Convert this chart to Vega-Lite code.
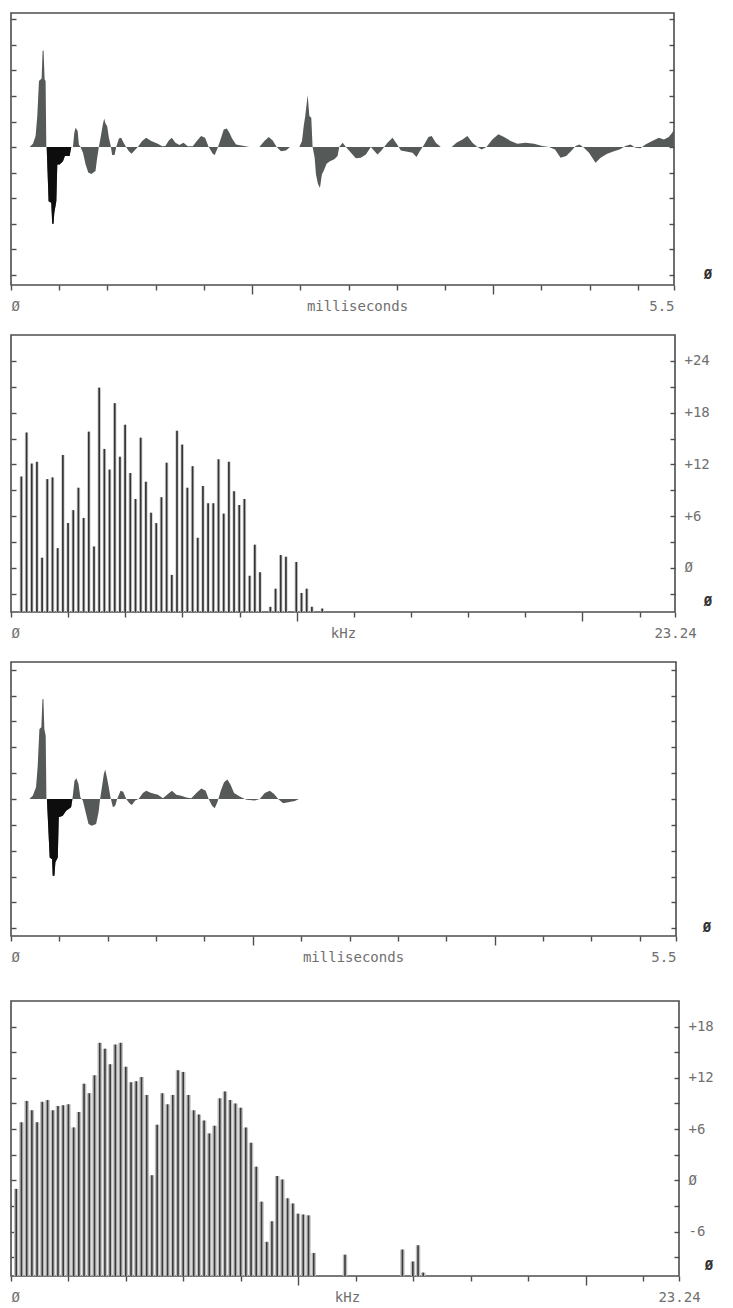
{
  "$schema": "https://vega.github.io/schema/vega-lite/v6.json",
  "padding": {"left": 9, "top": 12, "right": 0, "bottom": 0},
  "background": "white",
  "datasets": {
    "wave1": [
      {"t":0,"v":0},{"t":0.155,"v":0},{"t":0.182,"v":0.13},{"t":0.204,"v":0.43},{"t":0.218,"v":1.22},{"t":0.232,"v":2.59},{"t":0.254,"v":2.69},{"t":0.262,"v":3.76},{"t":0.27,"v":3.79},{"t":0.279,"v":2.65},{"t":0.287,"v":2.59},{"t":0.293,"v":0},{"t":0.296,"v":0},{"t":0.312,"v":-2.12},{"t":0.334,"v":-2.18},{"t":0.342,"v":-3.0},{"t":0.353,"v":-3.0},{"t":0.359,"v":-2.58},{"t":0.376,"v":-2.12},{"t":0.384,"v":-0.68},{"t":0.403,"v":-0.68},{"t":0.431,"v":-0.55},{"t":0.447,"v":-0.35},{"t":0.486,"v":-0.35},{"t":0.5,"v":0},{"t":0.514,"v":0},{"t":0.525,"v":0.56},{"t":0.536,"v":0.76},{"t":0.553,"v":0.63},{"t":0.563,"v":0.1},{"t":0.577,"v":0},{"t":0.597,"v":-0.22},{"t":0.619,"v":-0.68},{"t":0.641,"v":-1.0},{"t":0.666,"v":-1.05},{"t":0.701,"v":-0.94},{"t":0.715,"v":-0.42},{"t":0.729,"v":0},{"t":0.748,"v":0.5},{"t":0.762,"v":0.89},{"t":0.773,"v":1.12},{"t":0.784,"v":0.92},{"t":0.798,"v":0.82},{"t":0.812,"v":0.37},{"t":0.826,"v":0.08},{"t":0.839,"v":-0.31},{"t":0.859,"v":-0.31},{"t":0.873,"v":0},{"t":0.895,"v":0.34},{"t":0.914,"v":0.37},{"t":0.934,"v":0.17},{"t":0.955,"v":0},{"t":0.978,"v":-0.16},{"t":1.0,"v":-0.26},{"t":1.025,"v":-0.13},{"t":1.052,"v":0},{"t":1.088,"v":0.24},{"t":1.121,"v":0.37},{"t":1.163,"v":0.24},{"t":1.218,"v":0.13},{"t":1.254,"v":0.03},{"t":1.281,"v":0.04},{"t":1.309,"v":0.26},{"t":1.334,"v":0.37},{"t":1.364,"v":0.17},{"t":1.397,"v":0.08},{"t":1.431,"v":0.17},{"t":1.466,"v":0.03},{"t":1.508,"v":0.03},{"t":1.541,"v":0.24},{"t":1.577,"v":0.43},{"t":1.61,"v":0.37},{"t":1.64,"v":0},{"t":1.674,"v":-0.26},{"t":1.69,"v":-0.31},{"t":1.715,"v":-0.03},{"t":1.743,"v":0.37},{"t":1.765,"v":0.69},{"t":1.79,"v":0.73},{"t":1.812,"v":0.56},{"t":1.834,"v":0.34},{"t":1.867,"v":0.1},{"t":1.922,"v":0.05},{"t":1.978,"v":0},{"t":2.06,"v":0},{"t":2.102,"v":0.24},{"t":2.138,"v":0.39},{"t":2.171,"v":0.26},{"t":2.204,"v":0},{"t":2.24,"v":-0.16},{"t":2.281,"v":-0.13},{"t":2.314,"v":0},{"t":2.392,"v":0},{"t":2.414,"v":0.24},{"t":2.428,"v":0.82},{"t":2.441,"v":1.22},{"t":2.461,"v":2.04},{"t":2.475,"v":1.22},{"t":2.491,"v":1.15},{"t":2.502,"v":0},{"t":2.519,"v":-0.42},{"t":2.53,"v":-1.07},{"t":2.546,"v":-1.44},{"t":2.563,"v":-1.6},{"t":2.579,"v":-1.07},{"t":2.599,"v":-0.88},{"t":2.618,"v":-0.65},{"t":2.646,"v":-0.55},{"t":2.682,"v":-0.48},{"t":2.709,"v":-0.35},{"t":2.723,"v":0},{"t":2.751,"v":0.17},{"t":2.778,"v":0},{"t":2.82,"v":-0.22},{"t":2.861,"v":-0.44},{"t":2.902,"v":-0.42},{"t":2.944,"v":-0.29},{"t":2.985,"v":0},{"t":3.04,"v":-0.29},{"t":3.068,"v":-0.16},{"t":3.123,"v":0.17},{"t":3.165,"v":0.37},{"t":3.206,"v":0.08},{"t":3.234,"v":-0.13},{"t":3.289,"v":-0.18},{"t":3.331,"v":-0.22},{"t":3.364,"v":-0.39},{"t":3.391,"v":-0.16},{"t":3.428,"v":0.1},{"t":3.463,"v":0.39},{"t":3.49,"v":0.43},{"t":3.524,"v":0.17},{"t":3.565,"v":0},{"t":3.656,"v":0},{"t":3.695,"v":0.17},{"t":3.745,"v":0.3},{"t":3.786,"v":0.43},{"t":3.828,"v":0.17},{"t":3.869,"v":0},{"t":3.905,"v":-0.09},{"t":3.944,"v":0},{"t":3.993,"v":0.3},{"t":4.043,"v":0.5},{"t":4.09,"v":0.39},{"t":4.145,"v":0.24},{"t":4.2,"v":0.13},{"t":4.269,"v":0.17},{"t":4.339,"v":0.13},{"t":4.408,"v":0.04},{"t":4.463,"v":0},{"t":4.513,"v":-0.09},{"t":4.559,"v":-0.42},{"t":4.606,"v":-0.35},{"t":4.651,"v":-0.13},{"t":4.684,"v":0.04},{"t":4.717,"v":0.1},{"t":4.753,"v":-0.03},{"t":4.795,"v":-0.22},{"t":4.849,"v":-0.61},{"t":4.891,"v":-0.42},{"t":4.946,"v":-0.26},{"t":5.002,"v":-0.16},{"t":5.048,"v":-0.09},{"t":5.098,"v":0.04},{"t":5.139,"v":0.1},{"t":5.181,"v":-0.03},{"t":5.222,"v":-0.05},{"t":5.263,"v":0.1},{"t":5.319,"v":0.24},{"t":5.374,"v":0.37},{"t":5.416,"v":0.3},{"t":5.457,"v":0.39},{"t":5.485,"v":0.56},{"t":5.5,"v":0.69}
    ],
    "wave3": [
      {"t":0,"v":0},{"t":0.152,"v":0},{"t":0.18,"v":0.13},{"t":0.207,"v":0.45},{"t":0.221,"v":1.29},{"t":0.235,"v":2.71},{"t":0.251,"v":2.78},{"t":0.26,"v":3.85},{"t":0.268,"v":3.88},{"t":0.276,"v":2.71},{"t":0.287,"v":2.45},{"t":0.293,"v":0},{"t":0.297,"v":0},{"t":0.32,"v":-2.26},{"t":0.34,"v":-2.33},{"t":0.345,"v":-2.97},{"t":0.359,"v":-2.97},{"t":0.367,"v":-2.45},{"t":0.387,"v":-2.26},{"t":0.395,"v":-0.71},{"t":0.428,"v":-0.65},{"t":0.456,"v":-0.45},{"t":0.497,"v":-0.32},{"t":0.508,"v":0},{"t":0.525,"v":0.71},{"t":0.541,"v":0.8},{"t":0.558,"v":0.58},{"t":0.574,"v":0.06},{"t":0.594,"v":-0.06},{"t":0.621,"v":-0.58},{"t":0.641,"v":-0.97},{"t":0.668,"v":-1.03},{"t":0.704,"v":-0.97},{"t":0.724,"v":-0.52},{"t":0.737,"v":0},{"t":0.754,"v":0.52},{"t":0.768,"v":0.97},{"t":0.779,"v":1.14},{"t":0.793,"v":0.84},{"t":0.806,"v":0.52},{"t":0.823,"v":0.06},{"t":0.843,"v":-0.32},{"t":0.862,"v":-0.26},{"t":0.878,"v":0},{"t":0.906,"v":0.32},{"t":0.928,"v":0.28},{"t":0.953,"v":0},{"t":0.98,"v":-0.16},{"t":1.0,"v":-0.23},{"t":1.027,"v":-0.06},{"t":1.055,"v":0},{"t":1.091,"v":0.23},{"t":1.118,"v":0.32},{"t":1.16,"v":0.23},{"t":1.215,"v":0.16},{"t":1.257,"v":0.03},{"t":1.298,"v":0.19},{"t":1.331,"v":0.32},{"t":1.367,"v":0.16},{"t":1.408,"v":0.13},{"t":1.45,"v":0.06},{"t":1.491,"v":0.03},{"t":1.533,"v":0.23},{"t":1.574,"v":0.41},{"t":1.61,"v":0.32},{"t":1.635,"v":0},{"t":1.663,"v":-0.26},{"t":1.685,"v":-0.36},{"t":1.707,"v":-0.13},{"t":1.735,"v":0.32},{"t":1.762,"v":0.65},{"t":1.79,"v":0.75},{"t":1.817,"v":0.54},{"t":1.845,"v":0.23},{"t":1.892,"v":0.1},{"t":1.947,"v":-0.03},{"t":2.016,"v":-0.06},{"t":2.057,"v":0},{"t":2.099,"v":0.23},{"t":2.14,"v":0.32},{"t":2.176,"v":0.19},{"t":2.21,"v":0},{"t":2.251,"v":-0.16},{"t":2.293,"v":-0.13},{"t":2.347,"v":-0.08},{"t":2.381,"v":0},{"t":5.5,"v":0}
    ],
    "spec2": [
      {"f":0.363,"db":10.6},{"f":0.545,"db":15.7},{"f":0.726,"db":12.1},{"f":0.908,"db":12.3},{"f":1.089,"db":1.2},{"f":1.271,"db":10.3},{"f":1.453,"db":10.5},{"f":1.634,"db":2.3},{"f":1.816,"db":13.1},{"f":1.997,"db":5.2},{"f":2.179,"db":6.7},{"f":2.36,"db":9.3},{"f":2.542,"db":5.8},{"f":2.723,"db":15.8},{"f":2.905,"db":2.5},{"f":3.087,"db":20.9},{"f":3.268,"db":13.8},{"f":3.45,"db":11.4},{"f":3.631,"db":19.1},{"f":3.813,"db":12.9},{"f":3.994,"db":16.6},{"f":4.176,"db":11.0},{"f":4.358,"db":8.0},{"f":4.539,"db":15.1},{"f":4.721,"db":10.0},{"f":4.902,"db":6.4},{"f":5.084,"db":5.2},{"f":5.265,"db":8.2},{"f":5.447,"db":12.2},{"f":5.628,"db":-0.8},{"f":5.81,"db":15.9},{"f":5.992,"db":14.3},{"f":6.173,"db":9.3},{"f":6.355,"db":11.8},{"f":6.536,"db":3.5},{"f":6.718,"db":9.5},{"f":6.899,"db":7.5},{"f":7.081,"db":7.5},{"f":7.263,"db":12.6},{"f":7.444,"db":6.3},{"f":7.626,"db":12.3},{"f":7.807,"db":8.9},{"f":7.989,"db":7.3},{"f":8.17,"db":8.0},{"f":8.352,"db":-0.9},{"f":8.533,"db":2.7},{"f":8.715,"db":-0.5},{"f":9.078,"db":-4.5},{"f":9.26,"db":-2.4},{"f":9.441,"db":1.5},{"f":9.623,"db":1.3},{"f":9.986,"db":0.7},{"f":10.168,"db":-2.9},{"f":10.349,"db":-2.4},{"f":10.531,"db":-4.5},{"f":10.894,"db":-4.7}
    ],
    "spec4": [
      {"f":0.182,"db":-1.0},{"f":0.363,"db":6.8},{"f":0.545,"db":9.3},{"f":0.726,"db":8.2},{"f":0.908,"db":6.8},{"f":1.089,"db":9.2},{"f":1.271,"db":9.4},{"f":1.453,"db":8.2},{"f":1.634,"db":8.7},{"f":1.816,"db":8.8},{"f":1.997,"db":8.9},{"f":2.179,"db":6.2},{"f":2.36,"db":8.0},{"f":2.542,"db":11.3},{"f":2.723,"db":10.2},{"f":2.905,"db":12.3},{"f":3.087,"db":16.1},{"f":3.268,"db":15.4},{"f":3.45,"db":13.6},{"f":3.631,"db":15.9},{"f":3.813,"db":16.1},{"f":3.994,"db":13.3},{"f":4.176,"db":11.5},{"f":4.358,"db":11.6},{"f":4.539,"db":12.1},{"f":4.721,"db":10.0},{"f":4.902,"db":0.6},{"f":5.084,"db":6.5},{"f":5.265,"db":10.2},{"f":5.447,"db":8.9},{"f":5.628,"db":10.0},{"f":5.81,"db":12.9},{"f":5.992,"db":12.7},{"f":6.173,"db":10.0},{"f":6.355,"db":8.2},{"f":6.536,"db":7.7},{"f":6.718,"db":7.0},{"f":6.899,"db":5.5},{"f":7.081,"db":6.4},{"f":7.263,"db":9.6},{"f":7.444,"db":10.4},{"f":7.626,"db":9.4},{"f":7.807,"db":9.0},{"f":7.989,"db":8.5},{"f":8.17,"db":6.2},{"f":8.352,"db":4.4},{"f":8.533,"db":1.6},{"f":8.715,"db":-2.5},{"f":8.897,"db":-7.2},{"f":9.078,"db":-4.8},{"f":9.26,"db":0.5},{"f":9.441,"db":0.1},{"f":9.623,"db":-2.1},{"f":9.804,"db":-2.7},{"f":9.986,"db":-3.9},{"f":10.168,"db":-4.0},{"f":10.349,"db":-4.1},{"f":10.531,"db":-8.5},{"f":11.62,"db":-8.7},{"f":13.617,"db":-8.1},{"f":13.98,"db":-9.5},{"f":14.162,"db":-7.6},{"f":14.343,"db":-10.8}
    ]
  },
  "spacing": 31,
  "vconcat": [
    {
      "spacing": 16,
      "vconcat": [
        {
          "width": 663,
          "height": 272,
          "data": {"name": "wave1"},
          "layer": [
            {
              "mark": {"type": "area", "color": "#555a58", "interpolate": "linear"},
              "encoding": {
                "x": {
                  "field": "t", "type": "quantitative",
                  "scale": {"domain": [0, 5.5], "nice": false, "zero": false},
                  "axis": {
                    "orient": "bottom",
                    "values": [0,0.2,0.4,0.6,0.8,1,1.2,1.4,1.6,1.8,2,2.2,2.4,2.6,2.8,3,3.2,3.4,3.6,3.8,4,4.2,4.4,4.6,4.8,5,5.2,5.4,5.5],
                    "tickSize": {"condition": {"test": "datum.value >= 0.9 && abs(datum.value - round(datum.value)) < 0.01", "value": 9}, "value": 5},
                    "labelExpr": "datum.value == 0 ? 'Ø' : (datum.value == 5.5 ? '5.5' : '')",
                    "labelAlign": {"condition": {"test": "datum.value == 0", "value": "left"}, "value": "right"},
                    "labelBaseline": "top",
                    "labelPadding": 9,
                    "title": "milliseconds",
                    "titleX": 346,
                    "titleY": 14,
                    "titleBaseline": "top",
                    "titleAlign": "center"
                  }
                },
                "y": {
                  "field": "v", "type": "quantitative",
                  "scale": {"domain": [-5.4, 5.25], "nice": false, "zero": false},
                  "axis": {"orient": "left", "values": [-5,-4,-3,-2,-1,0,1,2,3,4,5], "labels": false, "tickSize": -5, "title": null}
                },
                "y2": {"datum": 0}
              }
            },
            {
              "transform": [{"filter": "datum.t >= 0.29 && datum.t <= 0.5"}],
              "mark": {"type": "area", "color": "#0d0d0d", "interpolate": "linear"},
              "encoding": {
                "x": {"field": "t", "type": "quantitative"},
                "y": {
                  "field": "v", "type": "quantitative",
                  "axis": {"orient": "right", "values": [-5,-4,-3,-2,-1,0,1,2,3,4,5], "labels": false, "tickSize": -5, "title": null}
                },
                "y2": {"datum": 0}
              }
            },
            {
              "data": {"values": [{}]},
              "mark": {"type": "text", "text": "Ø", "fontWeight": "bold", "fontSize": 14, "color": "#333333", "dx": 34, "font": "DejaVu Sans Mono"},
              "encoding": {
                "x": {"datum": 5.5, "type": "quantitative"},
                "y": {"datum": -5, "type": "quantitative", "axis": null}
              }
            }
          ],
          "resolve": {"axis": {"y": "independent"}}
        },
        {
          "width": 664,
          "height": 277,
          "data": {"name": "spec2"},
          "layer": [
            {
              "mark": {"type": "rule", "color": "#cfcfcf", "strokeWidth": 3.5},
              "encoding": {
                "x": {
                  "field": "f", "type": "quantitative",
                  "scale": {"domain": [0, 23.24], "nice": false, "zero": false},
                  "axis": {
                    "orient": "bottom",
                    "values": [0,1,2,3,4,5,6,7,8,9,10,11,12,13,14,15,16,17,18,19,20,21,22,23,23.24],
                    "tickSize": {"condition": {"test": "datum.value == 10 || datum.value == 20", "value": 9}, "value": 5},
                    "labelExpr": "datum.value == 0 ? 'Ø' : (datum.value == 23.24 ? '23.24' : '')",
                    "labelAlign": {"condition": {"test": "datum.value == 0", "value": "left"}, "value": "center"},
                    "labelBaseline": "top",
                    "labelPadding": 9,
                    "title": "kHz",
                    "titleX": 332,
                    "titleY": 14,
                    "titleBaseline": "top",
                    "titleAlign": "center"
                  }
                },
                "y": {
                  "field": "db", "type": "quantitative",
                  "scale": {"domain": [-5.1, 27], "nice": false, "zero": false},
                  "axis": {"orient": "left", "values": [-3,0,3,6,9,12,15,18,21,24], "labels": false, "tickSize": -5, "title": null}
                },
                "y2": {"datum": -5.1}
              }
            },
            {
              "mark": {"type": "rule", "color": "#333333", "strokeWidth": 1.7},
              "encoding": {
                "x": {"field": "f", "type": "quantitative"},
                "y": {
                  "field": "db", "type": "quantitative",
                  "axis": {
                    "orient": "right", "values": [-3,0,3,6,9,12,15,18,21,24], "tickSize": -5, "title": null,
                    "labelExpr": "datum.value == 0 ? 'Ø' : (datum.value % 6 == 0 ? (datum.value > 0 ? '+' : '') + datum.value : '')",
                    "labelPadding": 14, "labelAlign": "left", "labelBaseline": "middle"
                  }
                },
                "y2": {"datum": -5.1}
              }
            },
            {
              "data": {"values": [{}]},
              "mark": {"type": "text", "text": "Ø", "fontWeight": "bold", "fontSize": 14, "color": "#333333", "dx": 33, "font": "DejaVu Sans Mono"},
              "encoding": {
                "x": {"datum": 23.24, "type": "quantitative"},
                "y": {"datum": -3.9, "type": "quantitative", "axis": null}
              }
            }
          ],
          "resolve": {"axis": {"y": "independent"}}
        },
        {
          "width": 665,
          "height": 274,
          "data": {"name": "wave3"},
          "layer": [
            {
              "mark": {"type": "area", "color": "#555a58", "interpolate": "linear"},
              "encoding": {
                "x": {
                  "field": "t", "type": "quantitative",
                  "scale": {"domain": [0, 5.5], "nice": false, "zero": false},
                  "axis": {
                    "orient": "bottom",
                    "values": [0,0.2,0.4,0.6,0.8,1,1.2,1.4,1.6,1.8,2,2.2,2.4,2.6,2.8,3,3.2,3.4,3.6,3.8,4,4.2,4.4,4.6,4.8,5,5.2,5.4,5.5],
                    "tickSize": {"condition": {"test": "datum.value >= 0.9 && abs(datum.value - round(datum.value)) < 0.01", "value": 9}, "value": 5},
                    "labelExpr": "datum.value == 0 ? 'Ø' : (datum.value == 5.5 ? '5.5' : '')",
                    "labelAlign": {"condition": {"test": "datum.value == 0", "value": "left"}, "value": "right"},
                    "labelBaseline": "top",
                    "labelPadding": 9,
                    "title": "milliseconds",
                    "titleX": 342,
                    "titleY": 14,
                    "titleBaseline": "top",
                    "titleAlign": "center"
                  }
                },
                "y": {
                  "field": "v", "type": "quantitative",
                  "scale": {"domain": [-5.3, 5.3], "nice": false, "zero": false},
                  "axis": {"orient": "left", "values": [-5,-4,-3,-2,-1,0,1,2,3,4,5], "labels": false, "tickSize": -5, "title": null}
                },
                "y2": {"datum": 0}
              }
            },
            {
              "transform": [{"filter": "datum.t >= 0.29 && datum.t <= 0.51"}],
              "mark": {"type": "area", "color": "#0d0d0d", "interpolate": "linear"},
              "encoding": {
                "x": {"field": "t", "type": "quantitative"},
                "y": {
                  "field": "v", "type": "quantitative",
                  "axis": {"orient": "right", "values": [-5,-4,-3,-2,-1,0,1,2,3,4,5], "labels": false, "tickSize": -5, "title": null}
                },
                "y2": {"datum": 0}
              }
            },
            {
              "data": {"values": [{}]},
              "mark": {"type": "text", "text": "Ø", "fontWeight": "bold", "fontSize": 14, "color": "#333333", "dx": 31, "font": "DejaVu Sans Mono"},
              "encoding": {
                "x": {"datum": 5.5, "type": "quantitative"},
                "y": {"datum": -5, "type": "quantitative", "axis": null}
              }
            }
          ],
          "resolve": {"axis": {"y": "independent"}}
        }
      ]
    },
    {
      "width": 668,
      "height": 275,
      "data": {"name": "spec4"},
      "layer": [
        {
          "mark": {"type": "rule", "color": "#bdbdbd", "strokeWidth": 4.5},
          "encoding": {
            "x": {
              "field": "f", "type": "quantitative",
              "scale": {"domain": [0, 23.24], "nice": false, "zero": false},
              "axis": {
                "orient": "bottom",
                "values": [0,1,2,3,4,5,6,7,8,9,10,11,12,13,14,15,16,17,18,19,20,21,22,23,23.24],
                "tickSize": {"condition": {"test": "datum.value == 10 || datum.value == 20", "value": 9}, "value": 5},
                "labelExpr": "datum.value == 0 ? 'Ø' : (datum.value == 23.24 ? '23.24' : '')",
                "labelAlign": {"condition": {"test": "datum.value == 0", "value": "left"}, "value": "center"},
                "labelBaseline": "top",
                "labelPadding": 9,
                "title": "kHz",
                "titleX": 336,
                "titleY": 14,
                "titleBaseline": "top",
                "titleAlign": "center"
              }
            },
            "y": {
              "field": "db", "type": "quantitative",
              "scale": {"domain": [-11.2, 21], "nice": false, "zero": false},
              "axis": {"orient": "left", "values": [-9,-6,-3,0,3,6,9,12,15,18], "labels": false, "tickSize": -5, "title": null}
            },
            "y2": {"datum": -11.2}
          }
        },
        {
          "mark": {"type": "rule", "color": "#3a3a3a", "strokeWidth": 1.6},
          "encoding": {
            "x": {"field": "f", "type": "quantitative"},
            "y": {
              "field": "db", "type": "quantitative",
              "axis": {
                "orient": "right", "values": [-9,-6,-3,0,3,6,9,12,15,18], "tickSize": -5, "title": null,
                "labelExpr": "datum.value == 0 ? 'Ø' : (datum.value % 6 == 0 ? (datum.value > 0 ? '+' : '') + datum.value : '')",
                "labelPadding": 14, "labelAlign": "left", "labelBaseline": "middle"
              }
            },
            "y2": {"datum": -11.2}
          }
        },
        {
          "data": {"values": [{}]},
          "mark": {"type": "text", "text": "Ø", "fontWeight": "bold", "fontSize": 14, "color": "#333333", "dx": 30, "font": "DejaVu Sans Mono"},
          "encoding": {
            "x": {"datum": 23.24, "type": "quantitative"},
            "y": {"datum": -10, "type": "quantitative", "axis": null}
          }
        }
      ],
      "resolve": {"axis": {"y": "independent"}}
    }
  ],
  "config": {
    "view": {"stroke": "#4d4d4d", "strokeWidth": 1.6},
    "font": "DejaVu Sans Mono",
    "axis": {
      "domain": false,
      "grid": false,
      "tickColor": "#4d4d4d",
      "tickWidth": 1.4,
      "labelFont": "DejaVu Sans Mono",
      "labelFontSize": 14,
      "labelColor": "#707070",
      "labelOverlap": false,
      "titleFont": "DejaVu Sans Mono",
      "titleFontSize": 14,
      "titleFontWeight": "normal",
      "titleColor": "#707070"
    }
  }
}
